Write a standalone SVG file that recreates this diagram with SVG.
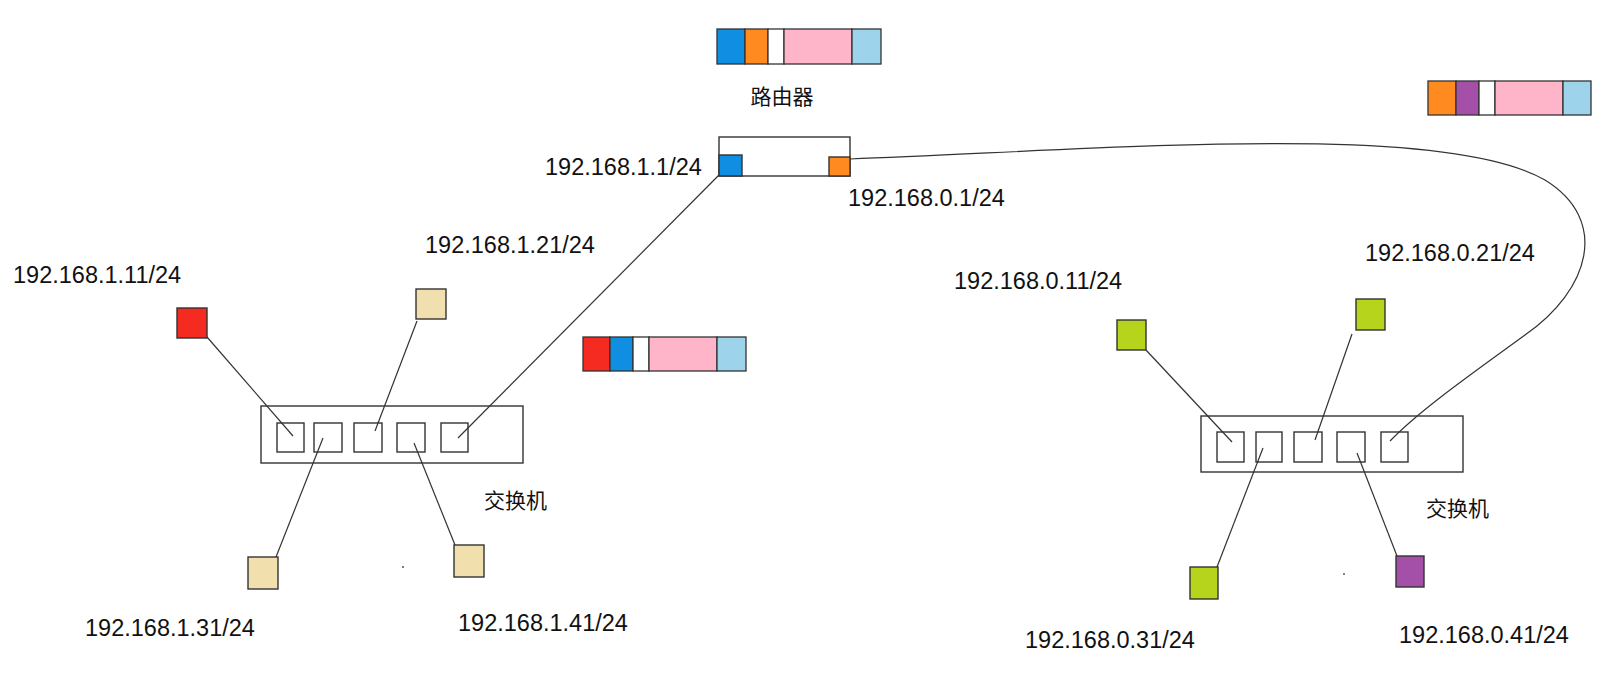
<svg xmlns="http://www.w3.org/2000/svg" width="1615" height="677" viewBox="0 0 1615 677">
<style>
.t{font-family:"Liberation Sans",Arial,sans-serif;font-size:23.5px;fill:#111}
.c{font-family:"Noto Sans CJK SC","Liberation Sans",sans-serif;font-size:21px;fill:#111}
.seg{stroke:#333;stroke-width:1.3}
.box{fill:#fff;stroke:#333;stroke-width:1.4}
.port{fill:#fff;stroke:#333;stroke-width:1.4}
.host{stroke:#333;stroke-width:1.4}
.ln{fill:none;stroke:#333;stroke-width:1.2}
</style>
<rect width="1615" height="677" fill="#fff"/>

<g id="packet-top">
<rect class="seg" x="717" y="29" width="28" height="35" fill="#0f8ee2"/>
<rect class="seg" x="745" y="29" width="23" height="35" fill="#ff8a1f"/>
<rect class="seg" x="768" y="29" width="16" height="35" fill="#fff"/>
<rect class="seg" x="784" y="29" width="68" height="35" fill="#ffb5c9"/>
<rect class="seg" x="852" y="29" width="29" height="35" fill="#9dd4ec"/>
</g>

<g id="packet-right">
<rect class="seg" x="1428" y="81" width="28" height="34" fill="#ff8a1f"/>
<rect class="seg" x="1456" y="81" width="23" height="34" fill="#a550a8"/>
<rect class="seg" x="1479" y="81" width="16" height="34" fill="#fff"/>
<rect class="seg" x="1495" y="81" width="68" height="34" fill="#ffb5c9"/>
<rect class="seg" x="1563" y="81" width="28" height="34" fill="#9dd4ec"/>
</g>

<g id="packet-mid">
<rect class="seg" x="583" y="337" width="27" height="34" fill="#f52a20"/>
<rect class="seg" x="610" y="337" width="23" height="34" fill="#0f8ee2"/>
<rect class="seg" x="633" y="337" width="16" height="34" fill="#fff"/>
<rect class="seg" x="649" y="337" width="68" height="34" fill="#ffb5c9"/>
<rect class="seg" x="717" y="337" width="29" height="34" fill="#9dd4ec"/>
</g>

<g id="router">
<text class="c" x="782" y="104" text-anchor="middle">路由器</text>
<rect class="box" x="719" y="137" width="131" height="39"/>
<rect class="host" x="719" y="155" width="23" height="21" fill="#0f8ee2"/>
<rect class="host" x="829" y="157" width="21" height="19" fill="#ff8a1f"/>
<text class="t" x="545" y="175">192.168.1.1/24</text>
<text class="t" x="848" y="206">192.168.0.1/24</text>
</g>

<g id="switch-left">
<rect class="box" x="261" y="406" width="262" height="57"/>
<rect class="port" x="277" y="423" width="27" height="29"/>
<rect class="port" x="314" y="423" width="28" height="29"/>
<rect class="port" x="354" y="423" width="28" height="29"/>
<rect class="port" x="397" y="423" width="28" height="29"/>
<rect class="port" x="441" y="423" width="27" height="29"/>
<text class="c" x="484" y="508">交换机</text>
</g>

<g id="switch-right">
<rect class="box" x="1201" y="416" width="262" height="56"/>
<rect class="port" x="1217" y="432" width="27" height="30"/>
<rect class="port" x="1256" y="432" width="26" height="30"/>
<rect class="port" x="1294" y="432" width="28" height="30"/>
<rect class="port" x="1337" y="432" width="28" height="30"/>
<rect class="port" x="1381" y="432" width="27" height="30"/>
<text class="c" x="1426" y="516">交换机</text>
</g>

<g id="connectors">
<line class="ln" x1="207" y1="337" x2="293" y2="436"/>
<line class="ln" x1="417" y1="321" x2="375" y2="431"/>
<line class="ln" x1="719" y1="175" x2="458" y2="438"/>
<line class="ln" x1="323" y1="438" x2="276" y2="557"/>
<line class="ln" x1="414" y1="443" x2="455" y2="545"/>
<line class="ln" x1="1146" y1="350" x2="1232" y2="442"/>
<line class="ln" x1="1352" y1="334" x2="1315" y2="440"/>
<line class="ln" x1="1263" y1="448" x2="1217" y2="567"/>
<line class="ln" x1="1357" y1="453" x2="1397" y2="556"/>
<path class="ln" d="M 850 159 C 1100 150, 1440 120, 1545 180 C 1610 220, 1590 290, 1525 335 C 1470 375, 1420 410, 1390 441"/>
</g>

<g id="host-1-11"><rect class="host" x="177" y="308" width="30" height="30" fill="#f52a20"/><text class="t" x="13" y="283">192.168.1.11/24</text></g>
<g id="host-1-21"><rect class="host" x="416" y="289" width="30" height="30" fill="#f1e0ae"/><text class="t" x="425" y="253">192.168.1.21/24</text></g>
<g id="host-1-31"><rect class="host" x="248" y="557" width="30" height="32" fill="#f1e0ae"/><text class="t" x="85" y="636">192.168.1.31/24</text></g>
<g id="host-1-41"><rect class="host" x="454" y="545" width="30" height="32" fill="#f1e0ae"/><text class="t" x="458" y="631">192.168.1.41/24</text></g>

<g id="host-0-11"><rect class="host" x="1117" y="320" width="29" height="30" fill="#b6d41b"/><text class="t" x="954" y="289">192.168.0.11/24</text></g>
<g id="host-0-21"><rect class="host" x="1356" y="299" width="29" height="31" fill="#b6d41b"/><text class="t" x="1365" y="261">192.168.0.21/24</text></g>
<g id="host-0-31"><rect class="host" x="1190" y="567" width="28" height="32" fill="#b6d41b"/><text class="t" x="1025" y="648">192.168.0.31/24</text></g>
<g id="host-0-41"><rect class="host" x="1396" y="556" width="28" height="31" fill="#a550a8"/><text class="t" x="1399" y="643">192.168.0.41/24</text></g>

<circle cx="403" cy="567" r="1" fill="#555"/>
<circle cx="1344" cy="574" r="1" fill="#555"/>
</svg>
